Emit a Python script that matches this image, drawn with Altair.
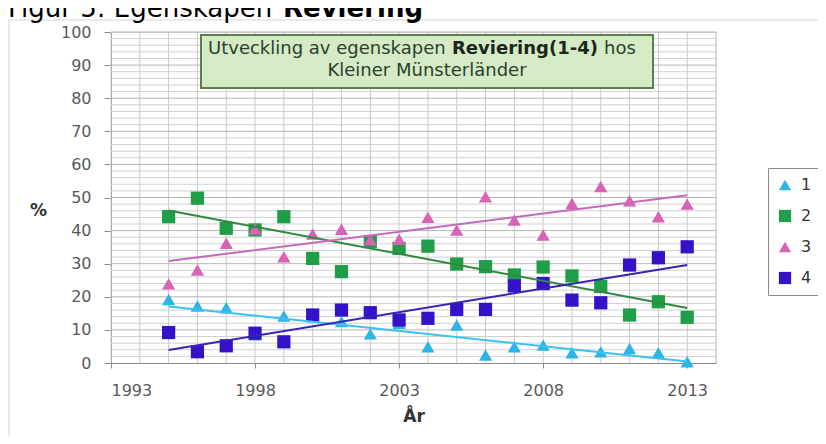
import altair as alt
import pandas as pd

# ---------------- data ----------------
years = list(range(1995, 2014))
serie_1 = [19.2, 17.2, 16.7, 8.5, 14.2, 14.0, 12.5, 8.8, 12.0, 4.9, 11.5, 2.4, 4.9, 5.4, 3.1, 3.4, 4.4, 3.1, 0.4]
serie_2 = [44.2, 49.8, 40.7, 40.2, 44.2, 31.6, 27.6, 36.7, 34.6, 35.3, 29.9, 29.1, 26.6, 29.0, 26.3, 23.1, 14.5, 18.5, 13.8]
serie_3 = [23.9, 28.1, 36.2, 40.5, 32.1, 39.0, 40.4, 37.2, 37.4, 44.0, 40.2, 50.2, 43.2, 38.7, 48.2, 53.3, 49.0, 44.2, 48.0]
serie_4 = [9.2, 3.4, 5.2, 9.0, 6.4, 14.5, 16.0, 15.2, 13.0, 13.5, 16.2, 16.2, 23.3, 24.0, 19.0, 18.2, 29.6, 31.8, 35.1]

series_names = ["1", "2", "3", "4"]
marker_colors = ["#2fb4e6", "#1f9e47", "#d862b6", "#3512c8"]
trend_colors = ["#3cc2f2", "#2f8a3f", "#c868bc", "#3a22b4"]
marker_shapes = ["triangle-up", "square", "triangle-up", "square"]

x_tick_values = [1993, 1998, 2003, 2008, 2013]
y_tick_values = list(range(0, 101, 10))
grid_years = list(range(1993, 2015))
grid_minor_y = [v for v in range(0, 101, 2) if v % 10]
grid_major_y = list(range(10, 101, 10))

fig_title_normal = "Figur 5: Egenskapen "
fig_title_bold = "Reviering"
note_a = "Utveckling av egenskapen"
note_b = "Reviering(1-4)"
note_c = "hos"
note_2 = "Kleiner Münsterländer"

# ---------------- tables ----------------
rows = []
for name, vals in zip(series_names, [serie_1, serie_2, serie_3, serie_4]):
    for yr, v in zip(years, vals):
        rows.append({"year": yr, "value": v, "serie": name})
df = pd.DataFrame(rows)
df_gx = pd.DataFrame({"year": grid_years})
df_gy_minor = pd.DataFrame({"value": grid_minor_y})
df_gy_major = pd.DataFrame({"value": grid_major_y})
one = pd.DataFrame({"k": [0]})

W, H = 605, 331
FONT = "DejaVu Sans"

x_scale = alt.Scale(domain=[1993, 2014], nice=False, zero=False)
y_scale = alt.Scale(domain=[0, 100], nice=False)

x_axis = alt.Axis(values=x_tick_values, format="d", title="År", grid=False,
                  labelFont=FONT, labelFontSize=16, labelColor="#595959",
                  labelPadding=14, tickSize=5, tickColor="#8c8c8c",
                  domainColor="#8c8c8c", titleFont=FONT, titleFontSize=17,
                  titleFontWeight="bold", titleColor="#333333", titlePadding=10)
y_axis = alt.Axis(values=y_tick_values, title="%", grid=False,
                  labelFont=FONT, labelFontSize=16, labelColor="#595959",
                  labelPadding=13, tickSize=7, tickColor="#8c8c8c",
                  domainColor="#8c8c8c", titleFont=FONT, titleFontSize=17,
                  titleFontWeight="bold", titleColor="#333333", titleAngle=0,
                  titleX=-73, titleY=178, titleAlign="center",
                  titleBaseline="middle")

X = alt.X("year:Q", scale=x_scale, axis=x_axis)
Y = alt.Y("value:Q", scale=y_scale, axis=y_axis)

# frame around the whole figure
frame = alt.Chart(one).mark_rect(fill=None, stroke="#d4d4d4", strokeWidth=1).encode(
    x=alt.value(-102), x2=alt.value(760), y=alt.value(-12), y2=alt.value(420))

grid_v = alt.Chart(df_gx).mark_rule(color="#c9c9c9", strokeWidth=1).encode(x=X)
grid_hmin = alt.Chart(df_gy_minor).mark_rule(color="#d0d0d0", strokeWidth=1).encode(y=Y)
grid_hmaj = alt.Chart(df_gy_major).mark_rule(color="#b4b4b4", strokeWidth=1).encode(y=Y)

legend = alt.Legend(orient="none", legendX=657, legendY=136, title=None,
                    strokeColor="#8a8a8a", fillColor="white", padding=9,
                    rowPadding=15, labelFont=FONT, labelFontSize=16,
                    labelColor="#333333", symbolSize=150, labelOffset=8,
                    symbolStrokeWidth=0)

points = alt.Chart(df).mark_point(filled=True, opacity=1, size=175).encode(
    x=X, y=Y,
    color=alt.Color("serie:N", scale=alt.Scale(domain=series_names, range=marker_colors), legend=legend),
    shape=alt.Shape("serie:N", scale=alt.Scale(domain=series_names, range=marker_shapes), legend=legend),
)

trends = alt.Chart(df).transform_regression(
    "year", "value", groupby=["serie"]
).mark_line(strokeWidth=2).encode(
    x=X, y=Y,
    stroke=alt.Stroke("serie:N", scale=alt.Scale(domain=series_names, range=trend_colors), legend=None),
)

# annotation box
box = alt.Chart(one).mark_rect(fill="#d5ebc5", stroke="#5b7f4b", strokeWidth=2).encode(
    x=alt.value(90), x2=alt.value(542), y=alt.value(3), y2=alt.value(56))
t_a = alt.Chart(one).mark_text(align="left", baseline="middle", font=FONT, fontSize=18,
                               color="#2b3f2b").encode(x=alt.value(97), y=alt.value(17), text=alt.value(note_a))
t_b = alt.Chart(one).mark_text(align="left", baseline="middle", font=FONT, fontSize=18,
                               fontWeight="bold", color="#1c261c").encode(x=alt.value(341), y=alt.value(17), text=alt.value(note_b))
t_c = alt.Chart(one).mark_text(align="left", baseline="middle", font=FONT, fontSize=18,
                               color="#2b3f2b").encode(x=alt.value(493), y=alt.value(17), text=alt.value(note_c))
t_2 = alt.Chart(one).mark_text(align="center", baseline="middle", font=FONT, fontSize=18,
                               color="#2b3f2b").encode(x=alt.value(316), y=alt.value(39), text=alt.value(note_2))

# figure title (partly cut at the top as in the original)
ft_a = alt.Chart(one).mark_text(align="left", baseline="alphabetic", font=FONT, fontSize=26,
                                color="#000000").encode(x=alt.value(-103), y=alt.value(-15), text=alt.value(fig_title_normal))
ft_b = alt.Chart(one).mark_text(align="left", baseline="alphabetic", font=FONT, fontSize=26,
                                fontWeight="bold", color="#000000").encode(x=alt.value(172), y=alt.value(-15), text=alt.value(fig_title_bold))

chart = alt.layer(
    frame, grid_v, grid_hmin, grid_hmaj, points, trends, box, t_a, t_b, t_c, t_2, ft_a, ft_b
).properties(
    width=W, height=H,
    padding={"left": 103, "top": 24, "right": 102, "bottom": 73},
    autosize=alt.AutoSizeParams(type="none"),
).configure_view(fill="#d9d9d9", stroke=None).configure(background="white")

chart.save("out.html", embed_options={"renderer": "svg", "actions": False})
